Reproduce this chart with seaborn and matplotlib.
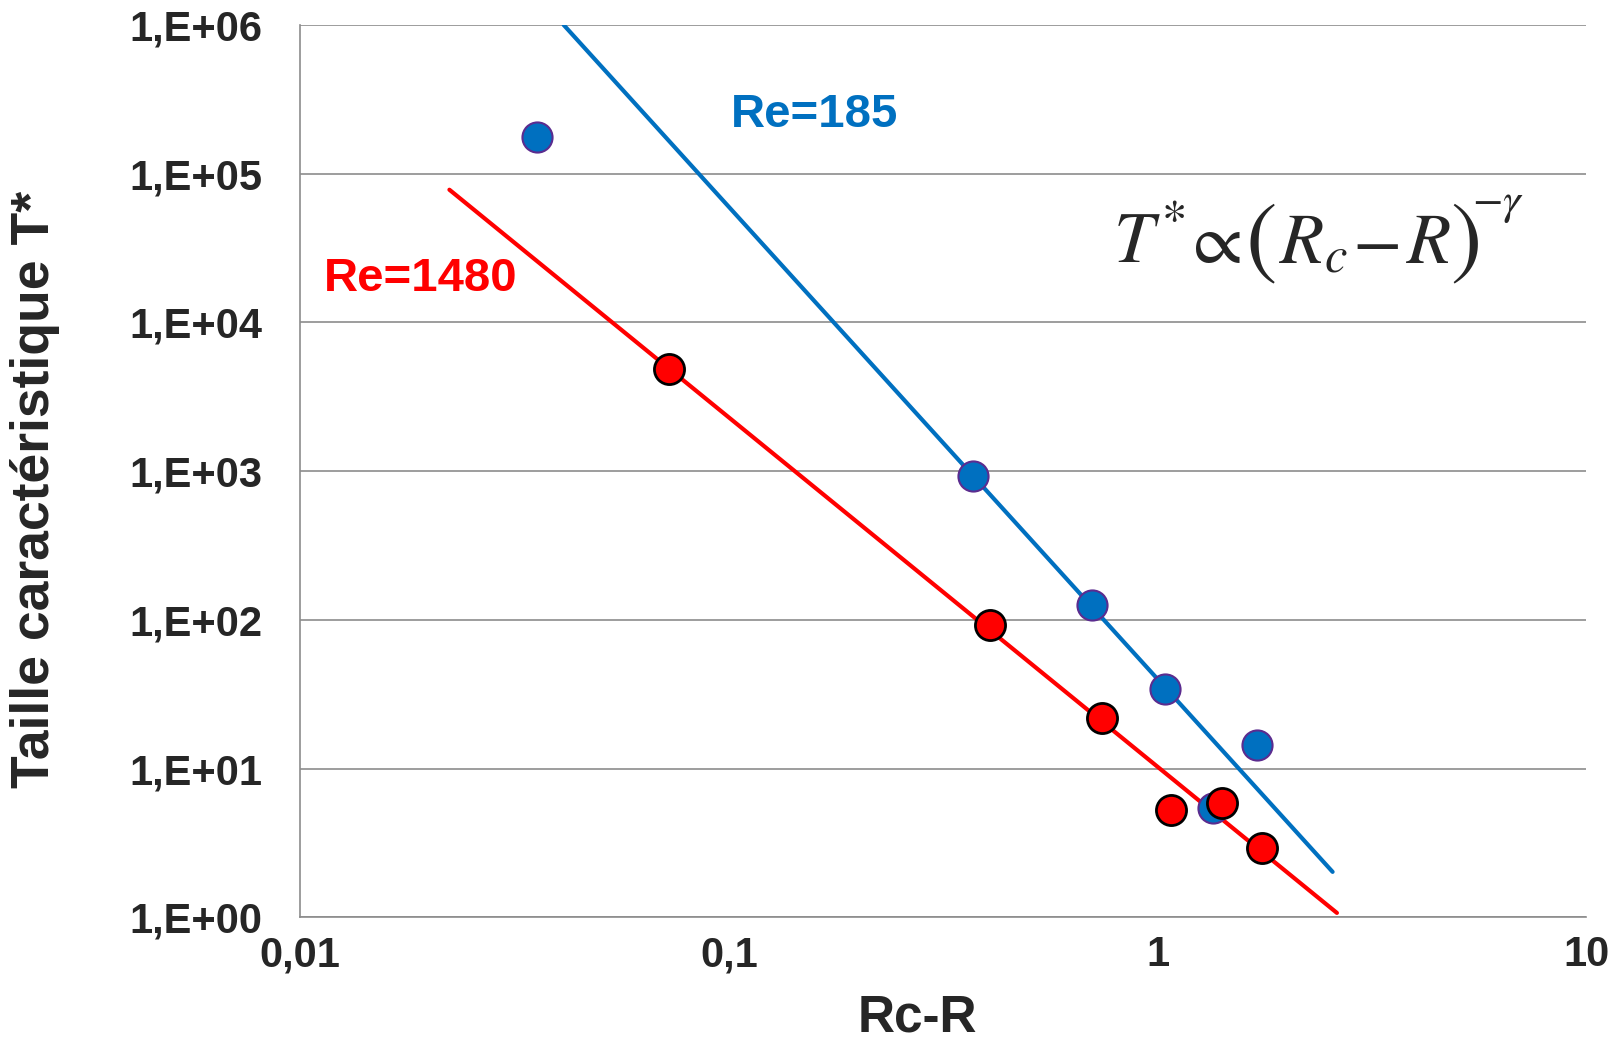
import pandas as pd
import seaborn as sns
from matplotlib import pyplot as plt
from matplotlib.ticker import FixedLocator, NullLocator

# measured points (Rc-R, T*)
re185_x = [0.0357, 0.371, 0.702, 1.042, 1.71, 1.35]
re185_y = [1.77e5, 923, 126, 34.5, 14.5, 5.47]
re1480_x = [0.0727, 0.407, 0.743, 1.077, 1.414, 1.75]
re1480_y = [4890, 93, 22, 5.3, 5.83, 2.93]

# power-law trend lines, end points
fit185_x = [0.0412, 2.56]
fit185_y = [1.0e6, 2.02]
fit1480_x = [0.0223, 2.62]
fit1480_y = [7.8e4, 1.07]

x_ticks = [0.01, 0.1, 1, 10]
x_labels = ["0,01", "0,1", "1", "10"]
y_ticks = [1, 10, 100, 1e3, 1e4, 1e5, 1e6]
y_labels = ["1,E+00", "1,E+01", "1,E+02", "1,E+03", "1,E+04", "1,E+05", "1,E+06"]

BLUE = "#0070C0"
RED = "#FF0000"
GRID = "#8C8C8C"
W, H = 1622, 1040


def px_text(fig, x, y, s, **kw):
    # place text at figure pixel position (origin top-left)
    fig.text(x / W, 1 - y / H, s, **kw)


def make_plot():
    sns.set_style("white")
    plt.rcParams['font.family'] = ['Liberation Sans', 'DejaVu Sans']
    plt.rcParams['mathtext.fontset'] = 'stix'

    fig = plt.figure(figsize=(W / 100, H / 100), dpi=100)
    ax = fig.add_axes([0.185, 0.118, 0.793, 0.858])
    ax.set_xscale("log")
    ax.set_yscale("log")

    df185 = pd.DataFrame({"x": fit185_x, "y": fit185_y})
    df1480 = pd.DataFrame({"x": fit1480_x, "y": fit1480_y})
    sns.lineplot(data=df185, x="x", y="y", color=BLUE, linewidth=3.0, ax=ax, zorder=3)
    sns.lineplot(data=df1480, x="x", y="y", color=RED, linewidth=3.0, ax=ax, zorder=3)

    pts185 = pd.DataFrame({"x": re185_x, "y": re185_y})
    pts1480 = pd.DataFrame({"x": re1480_x, "y": re1480_y})
    sns.scatterplot(data=pts185, x="x", y="y", color=BLUE, edgecolor="#5B2C8F",
                    s=470, linewidth=1.5, ax=ax, zorder=4)
    sns.scatterplot(data=pts1480, x="x", y="y", color=RED, edgecolor="black",
                    s=470, linewidth=2.0, ax=ax, zorder=5)

    ax.set_xlim(0.01, 10)
    ax.set_ylim(1, 1e6)

    ax.xaxis.set_major_locator(FixedLocator(x_ticks))
    ax.xaxis.set_minor_locator(NullLocator())
    ax.set_xticklabels(x_labels)
    ax.yaxis.set_major_locator(FixedLocator(y_ticks))
    ax.yaxis.set_minor_locator(NullLocator())
    ax.set_yticklabels(y_labels)
    ax.tick_params(axis="both", length=0, labelsize=30)
    ax.tick_params(axis="y", pad=27)
    ax.tick_params(axis="x", pad=13)
    for lab in ax.get_xticklabels() + ax.get_yticklabels():
        lab.set_fontweight("bold")

    ax.grid(axis="y", color=GRID, linewidth=1.2)
    ax.set_axisbelow(True)
    for side in ["top", "right"]:
        ax.spines[side].set_visible(False)
    for side in ["left", "bottom"]:
        ax.spines[side].set_color(GRID)
        ax.spines[side].set_linewidth(1.2)

    ax.set_xlabel("Rc-R", fontsize=37, fontweight="bold", va="top")
    ax.set_ylabel("Taille caractéristique T*", fontsize=38.5, fontweight="bold")
    ax.xaxis.set_label_coords(0.48, -0.085)
    ax.yaxis.set_label_coords(-0.187, 0.48)

    ax.text(0.40, 0.899, "Re=185", transform=ax.transAxes, color=BLUE,
            fontsize=34, fontweight="bold", ha="center", va="center")
    ax.text(0.0185, 0.715, "Re=1480", transform=ax.transAxes, color=RED,
            fontsize=34, fontweight="bold", ha="left", va="center")

    # T* ∝ (Rc - R)^-γ, assembled so the brackets can be taller
    base = 263
    px_text(fig, 1113, base, r"$T^{*}$", fontsize=52, ha="left", va="baseline")
    px_text(fig, 1182, base, r"$\propto$", fontsize=52, ha="left", va="baseline")
    px_text(fig, 1245, 243, r"$($", fontsize=68, ha="left", va="center")
    px_text(fig, 1279, base, r"$R_{c}$", fontsize=52, ha="left", va="baseline")
    px_text(fig, 1352, base, r"$-$", fontsize=52, ha="left", va="baseline")
    px_text(fig, 1406, base, r"$R$", fontsize=52, ha="left", va="baseline")
    px_text(fig, 1450, 243, r"$)$", fontsize=68, ha="left", va="center")
    px_text(fig, 1472, 214, r"$-\gamma$", fontsize=32, ha="left", va="baseline")

    fig.savefig("out.png", dpi=100)


make_plot()
